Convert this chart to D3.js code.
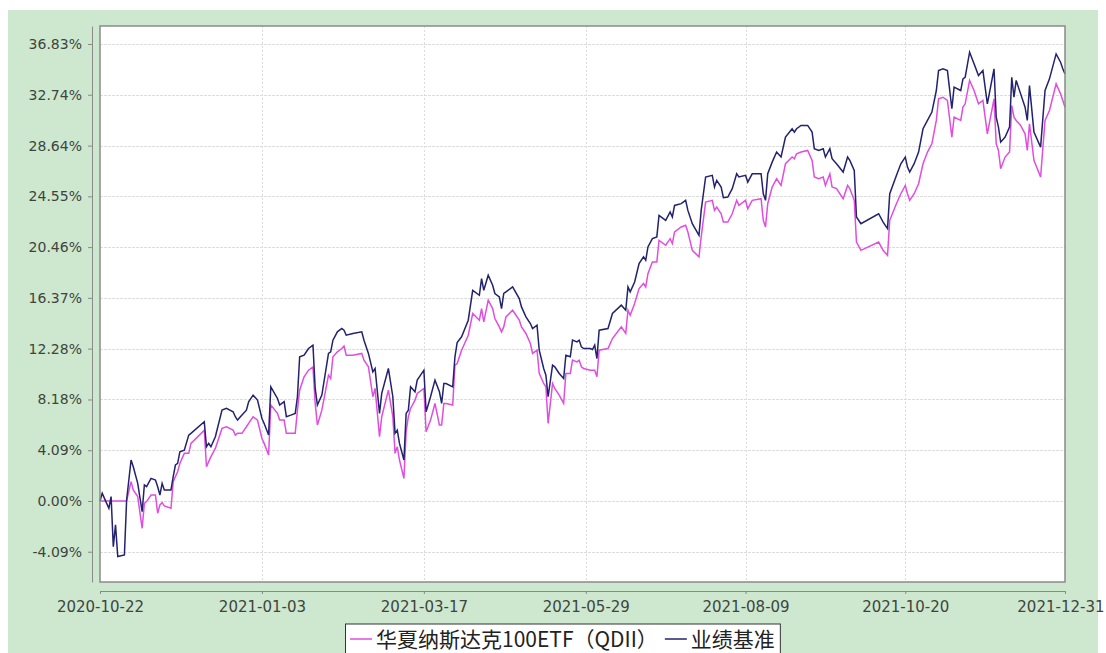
<!DOCTYPE html>
<html>
<head>
<meta charset="utf-8">
<script src="https://cdn.jsdelivr.net/npm/d3@7"></script>
<style>
    body { margin: 0; background: #fff; }
    svg { display: block; }
    .axis text { font-family: "DejaVu Sans", sans-serif; font-size: 14px; fill: #3f443f; }
    .axis.x text { font-size: 15px; }
    .axis path, .axis line { stroke: #8a8a8a; }
    .legend text { font-family: "Noto Sans CJK SC", sans-serif; font-size: 21px; fill: #222; }
</style>
</head>
<body>
<svg id="chart"></svg>
<script>
// dates (approximate)
const dates = [
    '2020-10-22','2020-10-23','2020-10-24','2020-10-26','2020-10-27','2020-10-28','2020-10-29','2020-10-30','2020-11-02','2020-11-03',
    '2020-11-05','2020-11-06','2020-11-08','2020-11-10','2020-11-11','2020-11-12','2020-11-14','2020-11-16','2020-11-17','2020-11-18',
    '2020-11-19','2020-11-20','2020-11-23','2020-11-24','2020-11-25','2020-11-26','2020-11-27','2020-11-29','2020-12-01','2020-12-02',
    '2020-12-08','2020-12-09','2020-12-10','2020-12-11','2020-12-13','2020-12-16','2020-12-18','2020-12-21','2020-12-22','2020-12-23',
    '2020-12-25','2020-12-27','2020-12-28','2020-12-30','2021-01-01','2021-01-03','2021-01-04','2021-01-06','2021-01-07','2021-01-10',
    '2021-01-11','2021-01-13','2021-01-14','2021-01-16','2021-01-18','2021-01-19','2021-01-20','2021-01-22','2021-01-24','2021-01-26',
    '2021-01-27','2021-01-28','2021-01-30','2021-02-02','2021-02-03','2021-02-04','2021-02-06','2021-02-08',
    '2021-02-09','2021-02-10','2021-02-13','2021-02-17','2021-02-18','2021-02-20','2021-02-22','2021-02-23','2021-02-25','2021-02-26',
    '2021-03-01','2021-03-03','2021-03-04','2021-03-05','2021-03-06','2021-03-08','2021-03-09','2021-03-10','2021-03-11','2021-03-13',
    '2021-03-14','2021-03-17','2021-03-18','2021-03-20','2021-03-22','2021-03-24','2021-03-25','2021-03-26','2021-03-27','2021-03-30',
    '2021-03-31','2021-04-01','2021-04-03','2021-04-06','2021-04-08','2021-04-11','2021-04-12','2021-04-13','2021-04-15','2021-04-17',
    '2021-04-18','2021-04-20','2021-04-21','2021-04-22','2021-04-23','2021-04-26','2021-04-29','2021-04-30','2021-05-02','2021-05-04',
    '2021-05-05','2021-05-07','2021-05-08','2021-05-10','2021-05-11','2021-05-12','2021-05-14','2021-05-15','2021-05-17','2021-05-19',
    '2021-05-20','2021-05-22','2021-05-23','2021-05-25','2021-05-26','2021-05-27','2021-05-28','2021-05-31',
    '2021-06-01','2021-06-02','2021-06-03','2021-06-04','2021-06-08','2021-06-10','2021-06-14','2021-06-16','2021-06-17','2021-06-18',
    '2021-06-20','2021-06-22','2021-06-24','2021-06-25','2021-06-26','2021-06-28','2021-06-30','2021-07-01','2021-07-04','2021-07-06',
    '2021-07-07','2021-07-08','2021-07-11','2021-07-13','2021-07-14','2021-07-16','2021-07-19','2021-07-20','2021-07-22','2021-07-25',
    '2021-07-26','2021-07-27','2021-07-29','2021-07-30','2021-08-01','2021-08-03','2021-08-05','2021-08-06','2021-08-09','2021-08-10',
    '2021-08-12','2021-08-16','2021-08-17','2021-08-18','2021-08-19','2021-08-21','2021-08-23','2021-08-25','2021-08-27','2021-08-30',
    '2021-08-31','2021-09-01','2021-09-03','2021-09-06','2021-09-08','2021-09-09','2021-09-11','2021-09-13','2021-09-14','2021-09-16',
    '2021-09-17','2021-09-19',
    '2021-09-22','2021-09-24','2021-09-25','2021-09-27','2021-09-28','2021-09-30','2021-10-08','2021-10-10','2021-10-12','2021-10-13',
    '2021-10-16','2021-10-18','2021-10-20','2021-10-21','2021-10-22','2021-10-24','2021-10-26','2021-10-28','2021-10-30','2021-11-01',
    '2021-11-03','2021-11-04','2021-11-06','2021-11-08','2021-11-10','2021-11-11','2021-11-14','2021-11-15','2021-11-16','2021-11-18',
    '2021-11-20','2021-11-22','2021-11-24','2021-11-26','2021-11-29','2021-11-30','2021-12-01','2021-12-02','2021-12-04','2021-12-06',
    '2021-12-07','2021-12-08','2021-12-09','2021-12-11','2021-12-13','2021-12-14','2021-12-15','2021-12-17','2021-12-20','2021-12-22',
    '2021-12-24','2021-12-27','2021-12-29','2021-12-30','2021-12-31'
];

// 华夏纳斯达克100ETF（QDII）, cumulative return in %
const fund = [
    0,0,0,0,0,0,0,0,0,0,
    1.56,0.89,0.35,-2.20,-0.19,-0.05,0.48,0.48,-0.99,-0.32,
    -0.13,-0.40,-0.59,1.56,1.96,2.36,3.03,3.84,3.84,4.64,
    5.71,2.76,3.17,3.57,4.24,5.85,5.98,5.71,5.31,5.45,
    5.45,5.98,6.25,6.79,6.52,5.04,4.64,3.70,7.73,7.06,
    6.52,6.52,5.45,5.45,5.45,7.32,8.93,10.01,10.54,10.81,
    7.86,6.12,7.32,10.14,9.87,11.62,12.02,12.29,
    12.48,11.75,11.75,11.89,11.35,10.81,8.40,9.07,5.18,6.79,
    8.93,6.79,3.84,4.37,3.30,1.82,5.58,6.79,7.46,8.13,
    8.67,9.07,5.58,6.52,7.86,6.12,6.12,7.86,7.86,7.73,
    10.95,11.08,12.15,13.36,15.11,14.57,15.51,14.43,16.18,15.51,
    14.70,14.03,13.63,14.03,14.84,15.37,14.57,14.03,13.50,12.69,
    11.89,12.15,10.28,9.47,9.20,6.25,9.47,9.07,8.53,7.86,
    10.28,10.28,11.35,11.21,11.35,10.81,10.68,10.54,
    10.54,10.54,10.01,12.15,12.29,13.09,14.03,13.50,15.37,14.97,
    15.91,17.12,17.52,17.25,18.32,19.26,19.26,21.01,20.61,21.14,
    20.74,21.68,22.08,22.22,21.68,20.20,19.67,21.28,24.09,24.23,
    23.42,23.69,23.15,22.48,22.48,23.15,24.23,23.82,24.23,23.56,
    24.23,24.36,22.62,22.08,23.96,25.30,25.97,25.43,27.18,27.72,
    27.58,27.98,28.12,28.25,27.45,26.11,25.97,26.11,25.43,26.37,
    25.30,25.17,
    24.36,25.43,25.17,24.23,20.87,20.20,20.87,20.20,19.80,22.62,
    23.96,24.76,25.43,24.76,24.23,24.76,25.57,27.18,28.12,28.79,
    30.67,32.41,32.54,32.28,29.33,30.93,30.67,31.74,32.01,33.89,
    33.08,32.01,32.28,29.59,32.41,28.79,28.25,26.78,27.72,28.12,
    31.87,30.93,30.67,30.26,29.59,28.25,30.40,27.45,26.11,30.67,
    31.47,33.62,32.81,32.28,31.74
];

// 业绩基准, cumulative return in %
const bench = [
    0.00,0.62,0.21,-0.59,0.35,-3.68,-1.93,-4.48,-4.35,0.08,
    3.30,2.76,1.42,-0.86,1.29,1.15,1.82,1.69,1.15,0.48,
    1.42,0.89,0.89,1.96,2.90,3.03,3.97,4.10,5.31,5.45,
    6.39,4.37,4.64,4.37,5.18,7.32,7.46,7.19,6.79,6.52,
    6.92,7.32,8.00,8.53,8.13,6.65,6.25,5.31,9.20,8.26,
    7.73,8.00,6.79,6.92,7.06,8.40,11.62,11.75,12.29,12.56,
    9.07,7.73,8.53,11.89,12.02,12.96,13.63,13.90,
    13.76,13.36,13.50,13.63,12.96,11.89,10.41,10.68,7.06,8.67,
    10.68,8.40,5.45,5.71,4.64,3.30,7.06,7.32,9.20,8.80,
    9.74,10.54,7.19,8.40,9.74,8.80,7.86,9.47,9.47,9.20,
    11.62,12.77,13.23,14.57,16.98,16.58,17.92,16.98,18.19,17.39,
    16.72,16.45,15.51,16.72,16.85,17.25,16.31,15.64,14.84,14.30,
    13.90,14.17,12.15,10.68,10.14,8.40,10.95,10.81,10.28,9.87,
    11.75,11.62,12.96,12.82,12.96,12.42,12.29,12.29,
    12.21,12.56,11.48,13.76,13.90,15.11,15.78,15.37,17.25,16.85,
    17.65,19.13,19.67,19.40,20.47,21.14,21.28,23.02,22.62,23.29,
    22.89,23.82,23.96,24.23,23.42,22.35,21.41,23.42,26.11,26.24,
    25.30,25.84,25.30,24.44,24.50,25.17,26.37,26.11,26.24,25.70,
    26.37,26.37,24.76,24.23,26.37,27.31,28.12,27.72,29.33,30.00,
    29.73,30.00,30.27,30.27,29.73,28.39,28.25,28.39,27.72,28.39,
    27.58,27.18,
    26.51,27.72,27.45,26.64,22.89,22.35,23.15,22.48,21.95,24.76,
    26.24,27.18,27.72,26.91,26.51,27.18,28.12,30.00,30.67,31.34,
    33.08,34.69,34.83,34.69,31.61,33.35,33.08,34.02,34.15,36.17,
    35.23,34.29,34.69,32.01,34.83,30.93,30.13,28.92,29.33,30.13,
    34.15,32.54,33.89,32.81,31.74,30.67,33.48,29.73,28.52,33.08,
    34.02,36.03,35.36,34.83,34.42
];

const yTicks = [-4.09, 0, 4.09, 8.18, 12.28, 16.37, 20.46, 24.55, 28.64, 32.74, 36.83];
const xTicks = ['2020-10-22', '2021-01-03', '2021-03-17', '2021-05-29', '2021-08-09', '2021-10-20', '2021-12-31'];
const seriesNames = ['华夏纳斯达克100ETF（QDII）', '业绩基准'];
const seriesColors = ['#e04ee0', '#22226e'];

const width = 1106;
const height = 653;
const plot = { left: 100, right: 1065, top: 26, bottom: 582 };
const axisGap = 8;

const parse = d3.timeParse('%Y-%m-%d');

const svg = d3.select('#chart')
    .attr('width', width)
    .attr('height', height);

// fond vert
svg.append('rect')
    .attr('x', 8).attr('y', 10)
    .attr('width', width - 16).attr('height', height - 10)
    .attr('fill', '#cde8ce');

const x = d3.scaleTime()
    .domain([parse(xTicks[0]), parse(xTicks[xTicks.length - 1])])
    .range([plot.left, plot.right]);

const y = d3.scaleLinear()
    .domain([-6.53, 38.28])
    .range([plot.bottom, plot.top]);

svg.append('rect')
    .attr('x', plot.left).attr('y', plot.top)
    .attr('width', plot.right - plot.left).attr('height', plot.bottom - plot.top)
    .attr('fill', '#fff');

// grille
const grid = svg.append('g')
    .attr('stroke', '#dcdcdc');

grid.selectAll('line.h')
    .data(yTicks)
    .join('line')
    .attr('class', 'h')
    .attr('stroke-dasharray', '3,1')
    .attr('x1', plot.left).attr('x2', plot.right)
    .attr('y1', d => Math.round(y(d)) + 0.5).attr('y2', d => Math.round(y(d)) + 0.5);

grid.selectAll('line.v')
    .data(xTicks.slice(1, -1))
    .join('line')
    .attr('class', 'v')
    .attr('stroke-dasharray', '2,2')
    .attr('y1', plot.top).attr('y2', plot.bottom)
    .attr('x1', d => Math.round(x(parse(d))) + 0.5).attr('x2', d => Math.round(x(parse(d))) + 0.5);

// courbes
const rows = dates.map((d, i) => ({ date: parse(d), fund: fund[i], bench: bench[i] }));

const line = key => d3.line()
    .x(d => x(d.date))
    .y(d => y(d[key]));

const plotArea = svg.append('g');

plotArea.append('path')
    .datum(rows)
    .attr('fill', 'none')
    .attr('stroke', seriesColors[0])
    .attr('stroke-width', 1.5)
    .attr('d', line('fund'));

plotArea.append('path')
    .datum(rows)
    .attr('fill', 'none')
    .attr('stroke', seriesColors[1])
    .attr('stroke-width', 1.5)
    .attr('d', line('bench'));

// cadre
svg.append('rect')
    .attr('x', plot.left).attr('y', plot.top)
    .attr('width', plot.right - plot.left).attr('height', plot.bottom - plot.top)
    .attr('fill', 'none')
    .attr('stroke', '#8a8a8a')
    .attr('stroke-width', 1.5);

// axes
svg.append('g')
    .attr('class', 'axis y')
    .attr('transform', `translate(${plot.left - axisGap},0)`)
    .call(d3.axisLeft(y)
        .tickValues(yTicks)
        .tickFormat(d => d.toFixed(2) + '%')
        .tickSize(4)
        .tickSizeOuter(0)
        .tickPadding(6));

const xAxis = svg.append('g')
    .attr('class', 'axis x')
    .attr('transform', `translate(0,${plot.bottom + axisGap + 1})`)
    .call(d3.axisBottom(x)
        .tickValues(xTicks.map(parse))
        .tickFormat(d3.timeFormat('%Y-%m-%d'))
        .tickSize(3)
        .tickSizeOuter(0)
        .tickPadding(7));

// le dernier libellé colle au bord droit
xAxis.selectAll('.tick:last-of-type text')
    .attr('text-anchor', 'end')
    .attr('x', width - 2 - plot.right);

// légende
const legend = svg.append('g').attr('class', 'legend');
const legendBox = legend.append('rect')
    .attr('y', 624)
    .attr('height', 40)
    .attr('fill', '#fff')
    .attr('stroke', '#333');

let lx = 350;
seriesNames.forEach((name, i) => {
    legend.append('line')
        .attr('x1', lx).attr('x2', lx + 22)
        .attr('y1', 639).attr('y2', 639)
        .attr('stroke', seriesColors[i])
        .attr('stroke-width', 1.5);
    const t = legend.append('text')
        .attr('x', lx + 26)
        .attr('y', 647)
        .text(name);
    lx = lx + 26 + t.node().getComputedTextLength() + 7;
});
legendBox.attr('x', 345.5).attr('width', lx - 345 - 2);
</script>
</body>
</html>
